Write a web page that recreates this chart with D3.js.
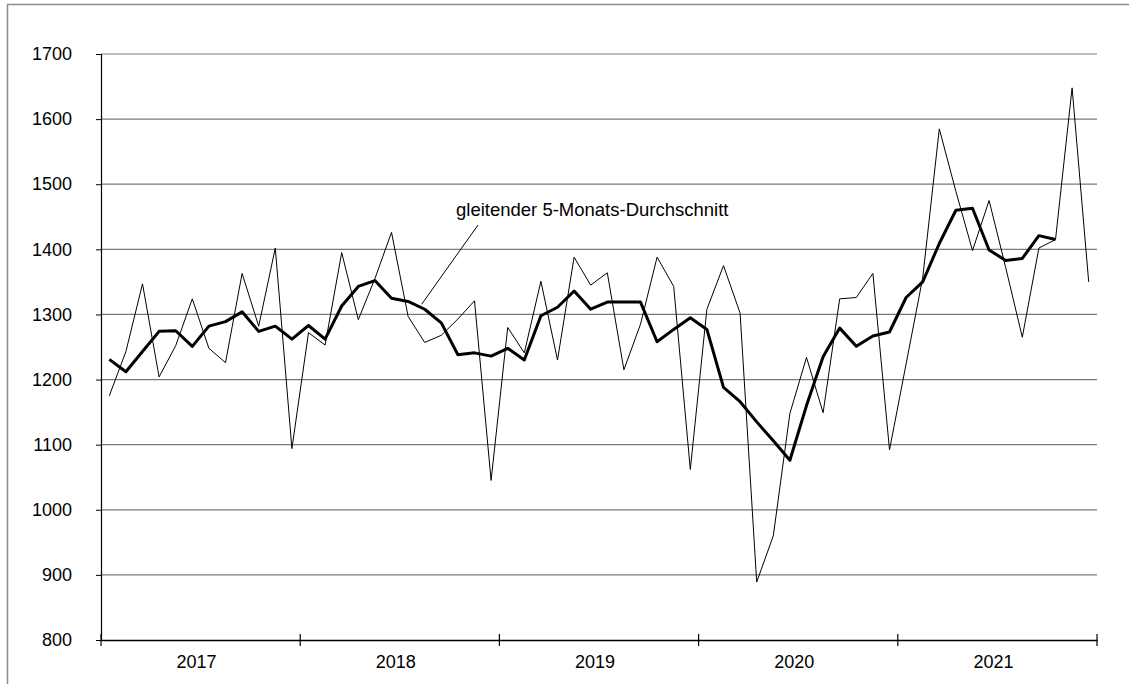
<!DOCTYPE html>
<html>
<head>
<meta charset="utf-8">
<script src="https://cdn.jsdelivr.net/npm/d3@7"></script>
<style>
  body { margin: 0; background: #fff; }
  svg text { font-family: "Liberation Sans", Arial, sans-serif; fill: #000; }
</style>
</head>
<body>
<div id="chart"></div>
<script>
// years shown on the x axis (12 months each)
var years = ["2017", "2018", "2019", "2020", "2021"];
var yTicks = [800, 900, 1000, 1100, 1200, 1300, 1400, 1500, 1600, 1700];

// monthly values, Jan 2017 .. Dec 2021
var monthly = [
  1175, 1243, 1347, 1204, 1252, 1324, 1248, 1226, 1363, 1282, 1402, 1094,
  1272, 1253, 1395, 1292, 1355, 1426, 1297, 1257, 1268, 1293, 1321, 1045,
  1280, 1241, 1351, 1230, 1388, 1345, 1364, 1215, 1285, 1388, 1343, 1062,
  1308, 1375, 1302,  889,  960, 1148, 1234, 1149, 1324, 1326, 1363, 1092,
  1224, 1356, 1585, 1489, 1398, 1475, 1372, 1265, 1402, 1415, 1648, 1350
];

// gleitender 5-Monats-Durchschnitt, Jan 2017 .. Oct 2021
var movingAvg = [
  1231, 1212, 1243, 1274, 1275, 1251, 1282, 1289, 1304, 1274, 1282, 1262,
  1283, 1262, 1313, 1343, 1352, 1325, 1320, 1308, 1287, 1238, 1241, 1236,
  1248, 1230, 1298, 1311, 1336, 1308, 1319, 1319, 1319, 1258, 1277, 1295,
  1277, 1188, 1166, 1135, 1106, 1076, 1160, 1235, 1279, 1251, 1267, 1273,
  1326, 1350, 1409, 1460, 1463, 1399, 1383, 1386, 1421, 1415
];

var annotation = "gleitender 5-Monats-Durchschnitt";

var W = 1129, H = 684;
var plotLeft = 101, plotRight = 1097, plotTop = 54, plotBottom = 640;

var svg = d3.select("#chart").append("svg")
    .attr("width", W)
    .attr("height", H);

// outer frame (only top and left edges visible)
svg.append("path")
    .attr("d", "M7.5," + H + " V4.5 H" + W)
    .attr("fill", "none")
    .attr("stroke", "#8c8c8c")
    .attr("stroke-width", 1.5);

var months = d3.range(monthly.length);
var x = d3.scaleBand().domain(months).range([plotLeft, plotRight]).padding(0);
var xm = function (i) { return x(i) + x.bandwidth() / 2; };
var xYear = d3.scaleBand().domain(years).range([plotLeft, plotRight]).padding(0);
var y = d3.scaleLinear().domain([800, 1700]).range([plotBottom, plotTop]);

// gridlines
svg.append("g")
    .selectAll("line")
    .data(yTicks.filter(function (d) { return d > 800; }))
    .enter().append("line")
    .attr("x1", plotLeft).attr("x2", plotRight)
    .attr("y1", function (d) { return y(d); })
    .attr("y2", function (d) { return y(d); })
    .attr("stroke", "#7a7a7a")
    .attr("stroke-width", 1.2);

// y axis
var yAxis = svg.append("g")
    .attr("transform", "translate(" + plotLeft + ",0)")
    .call(d3.axisLeft(y).tickValues(yTicks).tickSize(5).tickPadding(24).tickFormat(d3.format("d")));
yAxis.select(".domain").attr("stroke", "#000").attr("stroke-width", 1.2);
yAxis.selectAll(".tick line").attr("stroke", "#000");
yAxis.selectAll("text")
    .style("font-size", "18px")
    .style("font-family", "'Liberation Sans', Arial, sans-serif");

// x axis with year labels, ticks crossing the axis at year boundaries
var xAxis = svg.append("g")
    .attr("transform", "translate(0," + plotBottom + ")")
    .call(d3.axisBottom(xYear).tickSize(0).tickPadding(15));
xAxis.select(".domain").attr("stroke", "#000").attr("stroke-width", 1.5);
xAxis.selectAll("text")
    .attr("dx", "-4")
    .style("font-size", "18px")
    .style("font-family", "'Liberation Sans', Arial, sans-serif");

var bounds = years.map(function (d) { return xYear(d); }).concat([plotRight]);
svg.append("g")
    .selectAll("line")
    .data(bounds)
    .enter().append("line")
    .attr("x1", function (d) { return d; })
    .attr("x2", function (d) { return d; })
    .attr("y1", plotBottom - 6)
    .attr("y2", plotBottom + 6)
    .attr("stroke", "#000")
    .attr("stroke-width", 1.2);

// thin line: monthly values
var line = d3.line()
    .x(function (d, i) { return xm(i); })
    .y(function (d) { return y(d); });

svg.append("path")
    .datum(monthly)
    .attr("d", line)
    .attr("fill", "none")
    .attr("stroke", "#000")
    .attr("stroke-width", 1);

// thick line: moving average
svg.append("path")
    .datum(movingAvg)
    .attr("d", line)
    .attr("fill", "none")
    .attr("stroke", "#000")
    .attr("stroke-width", 3)
    .attr("stroke-linejoin", "round");

// annotation with leader line pointing at Aug 2018 average
var aIdx = 19;
svg.append("line")
    .attr("x1", 478).attr("y1", 225)
    .attr("x2", xm(aIdx) - 3).attr("y2", y(movingAvg[aIdx]) - 5)
    .attr("stroke", "#000")
    .attr("stroke-width", 1);

svg.append("text")
    .attr("x", 456)
    .attr("y", 216)
    .style("font-size", "18.5px")
    .text(annotation);
</script>
</body>
</html>
